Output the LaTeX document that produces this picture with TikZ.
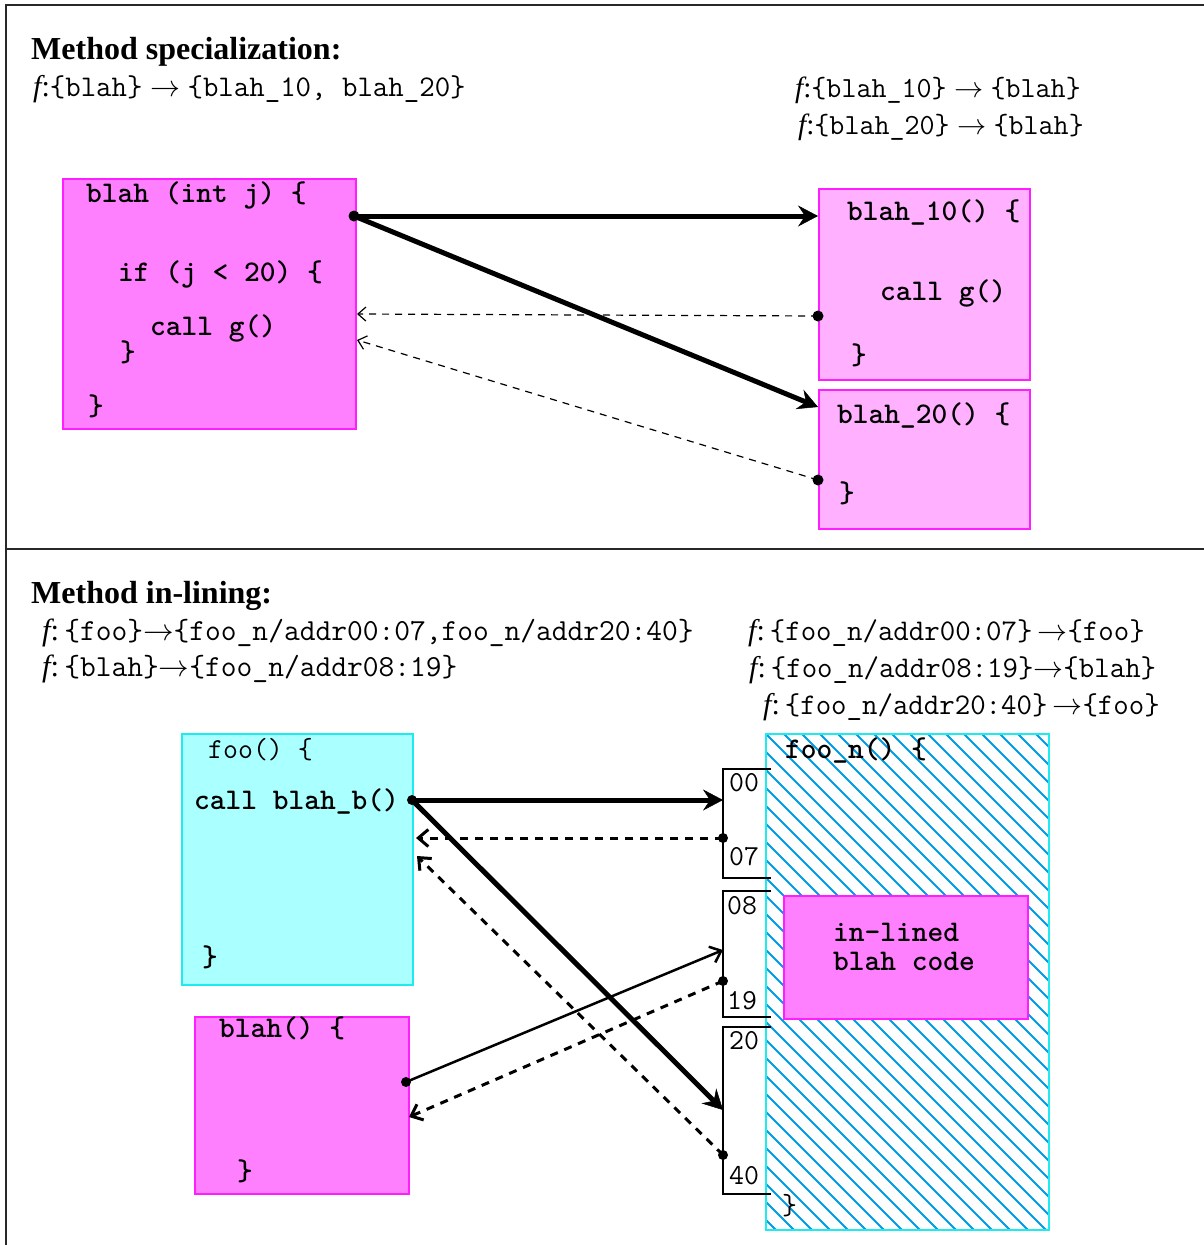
\documentclass[tikz,border=0pt]{standalone}
\usepackage{fix-cm}
\usepackage{fontspec}
\setmainfont{Liberation Serif}
\usetikzlibrary{arrows.meta}

\definecolor{pinkfill}{RGB}{255,128,255}
\definecolor{pinklight}{RGB}{255,176,255}
\definecolor{pinkline}{RGB}{255,30,255}
\definecolor{cyanfill}{RGB}{170,255,255}
\definecolor{cyanline}{RGB}{30,235,240}
\definecolor{hatchblue}{RGB}{0,155,225}
\definecolor{framegray}{RGB}{40,40,40}

\newcommand{\fcol}{{\itshape f}:}

\tikzset{
  heading/.style={font=\fontsize{32}{38}\selectfont\bfseries, anchor=base west, inner sep=0pt},
  maplbl/.style={anchor=west, inner sep=0pt, text height=22pt, text depth=7pt},
  mapsmall/.style={maplbl, font=\fontsize{29.2}{34}\selectfont},
  mapmid/.style={maplbl, font=\fontsize{30}{35}\selectfont},
  mapbig/.style={maplbl, font=\fontsize{30.6}{36}\selectfont},
  codebold/.style={font=\fontsize{30}{36}\selectfont\ttfamily\bfseries, anchor=west, inner sep=0pt, text height=22pt, text depth=7pt},
  codereg/.style={font=\fontsize{29}{34}\selectfont\ttfamily, anchor=west, inner sep=0pt, text height=22pt, text depth=7pt},
  boxbase/.style={anchor=north west, inner sep=0pt, line width=1.5pt},
  pinkbox/.style={boxbase, draw=pinkline, fill=pinkfill},
  pinklightbox/.style={boxbase, draw=pinkline, fill=pinklight},
  cyanbox/.style={boxbase, draw=cyanline, fill=cyanfill},
  hatchbox/.style={boxbase, draw=cyanline},
  thickarrow/.style={line width=5pt, -{Stealth[length=20pt,width=21pt,inset=7pt,line width=0.5pt]}},
  thindash/.style={line width=1.2pt, dash pattern=on 7pt off 6pt, -{Straight Barb[length=8pt,width=14pt]}},
  bolddash/.style={line width=3pt, dash pattern=on 8pt off 7pt, -{Straight Barb[length=10pt,width=17pt]}},
  boldline/.style={line width=2.5pt, -{Straight Barb[length=10pt,width=17pt]}},
  bracketline/.style={line width=1.3pt, black},
  framerule/.style={framegray, line width=2pt},
}

\begin{document}
\begin{tikzpicture}[x=1pt,y=-1pt]
\useasboundingbox (0,0) rectangle (1204,1245);

% frame and section divider
\draw[framerule] (1204,5) -- (6,5) -- (6,1245);
\draw[framerule] (6,549) -- (1204,549);

% ---------------- method specialization ----------------
\node[heading] (hspec) at (31,59) {Method specialization:};
\node[mapmid] (mspec) at (33,89) {\fcol{\ttfamily\{blah\}}~$\rightarrow$~{\ttfamily\{blah\_10, blah\_20\}}};
\node[mapsmall] (mb10) at (795,90) {\fcol{\ttfamily\{blah\_10\}}~$\rightarrow$~{\ttfamily\{blah\}}};
\node[mapsmall] (mb20) at (798,127) {\fcol{\ttfamily\{blah\_20\}}~$\rightarrow$~{\ttfamily\{blah\}}};

\node[pinkbox, minimum width=293pt, minimum height=250pt] (blahj) at (62,178) {};
\node[codebold] (bj1) at (86,195) {blah (int j) \{};
\node[codebold] (bj2) at (118,274) {if (j < 20) \{};
\node[codebold] (bj3) at (150,328) {call g()};
\node[codebold] (bj4) at (120,354) {\}};
\node[codebold] (bj5) at (88,408) {\}};

\node[pinklightbox, minimum width=211pt, minimum height=191pt] (b10) at (818,188) {};
\node[codebold] (b10a) at (847,213) {blah\_10() \{};
\node[codebold] (b10b) at (880,293) {call g()};
\node[codebold] (b10c) at (851,357) {\}};

\node[pinklightbox, minimum width=211pt, minimum height=139pt] (b20) at (818,389) {};
\node[codebold] (b20a) at (837,416) {blah\_20() \{};
\node[codebold] (b20b) at (839,495) {\}};

\coordinate (jout) at (354,216);
\coordinate (in10) at (818,216);
\coordinate (in20) at (818,407);
\coordinate (ret10) at (818,316);
\coordinate (jback1) at (357,314);
\coordinate (ret20) at (818,480);
\coordinate (jback2) at (357,340);

\draw[thickarrow] (jout) -- (in10);
\draw[thickarrow] (jout) -- (in20);
\draw[thindash] (ret10) -- (jback1);
\draw[thindash] (ret20) -- (jback2);
\fill (jout) circle (5.5);
\fill (ret10) circle (5.5);
\fill (ret20) circle (5.5);

% ---------------- method in-lining ----------------
\node[heading] (hinl) at (31,603) {Method in-lining:};
\node[mapbig] (mfoo) at (42,633) {\fcol\,{\ttfamily\{foo\}}$\rightarrow${\ttfamily\{foo\_n/addr00:07,foo\_n/addr20:40\}}};
\node[mapbig] (mblah) at (42,669) {\fcol\,{\ttfamily\{blah\}}$\rightarrow${\ttfamily\{foo\_n/addr08:19\}}};
\node[mapmid] (m0007) at (748,633) {\fcol\,{\ttfamily\{foo\_n/addr00:07\}}\,$\rightarrow${\ttfamily\{foo\}}};
\node[mapmid] (m0819) at (749,670) {\fcol\,{\ttfamily\{foo\_n/addr08:19\}}$\rightarrow${\ttfamily\{blah\}}};
\node[mapmid] (m2040) at (763,707) {\fcol\,{\ttfamily\{foo\_n/addr20:40\}}\,$\rightarrow${\ttfamily\{foo\}}};

% caller foo
\node[cyanbox, minimum width=231pt, minimum height=251pt] (foo) at (181,733) {};
\node[codereg] (foo1) at (208,751) {foo() \{};
\node[codebold] (foo2) at (194,802) {call blah\_b()};
\node[codebold] (foo3) at (202,959) {\}};

% callee blah
\node[pinkbox, minimum width=214pt, minimum height=177pt] (blah) at (194,1016) {};
\node[codebold] (bl1) at (219,1030) {blah() \{};
\node[codebold] (bl2) at (237,1173) {\}};

% in-lined body foo_n, hatched
\begin{scope}
  \clip (765,733) rectangle (1048,1229);
  \foreach \k in {-29,...,17}
    \draw[hatchblue, line width=2pt] (765+\k*18,733) -- ++(520,520);
\end{scope}
\node[hatchbox, minimum width=283pt, minimum height=496pt] (foon) at (765,733) {};
\node[pinkbox, minimum width=244pt, minimum height=123pt] (inl) at (783,895) {};
\node[font=\fontsize{30}{29}\selectfont\ttfamily\bfseries, align=left, anchor=west, inner sep=0pt] (inltxt) at (833,947) {in-lined\\blah code};
\node[codebold] (fn1) at (785,751) {foo\_n() \{};
\node[codereg] (fn2) at (782,1207) {\}};

% address ranges
\draw[bracketline] (771,769) -- (723,769) -- (723,878) -- (771,878);
\draw[bracketline] (771,891) -- (723,891) -- (723,1017) -- (771,1017);
\draw[bracketline] (771,1027) -- (723,1027) -- (723,1194) -- (771,1194);
\node[codereg] (r00) at (729,784) {00};
\node[codereg] (r07) at (729,858) {07};
\node[codereg] (r08) at (727,907) {08};
\node[codereg] (r19) at (727,1002) {19};
\node[codereg] (r20) at (729,1042) {20};
\node[codereg] (r40) at (729,1177) {40};

\coordinate (fooout) at (412,800);
\coordinate (a00) at (723,800);
\coordinate (a07) at (723,838);
\coordinate (fooback1) at (416,838);
\coordinate (a20) at (723,1110);
\coordinate (a40) at (723,1155);
\coordinate (fooback2) at (417,856);
\coordinate (blahout) at (406,1082);
\coordinate (a08) at (723,950);
\coordinate (a19) at (723,981);
\coordinate (blahback) at (409,1117);

\draw[thickarrow] (fooout) -- (a00);
\draw[thickarrow] (fooout) -- (a20);
\draw[bolddash] (a07) -- (fooback1);
\draw[bolddash] (a40) -- (fooback2);
\draw[boldline] (blahout) -- (a08);
\draw[bolddash] (a19) -- (blahback);
\fill (fooout) circle (5);
\fill (a07) circle (5);
\fill (a40) circle (5);
\fill (blahout) circle (5);
\fill (a19) circle (5);
\end{tikzpicture}
\end{document}
